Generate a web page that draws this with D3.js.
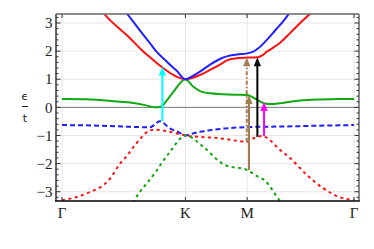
<!DOCTYPE html>
<html>
<head>
<meta charset="utf-8">
<script src="https://cdn.jsdelivr.net/npm/d3@7"></script>
<style>
  body { margin: 0; background: #fff; }
  .tl { font-family: "Liberation Serif", "Times New Roman", "DejaVu Serif", serif; font-size: 15px; fill: #222; }
</style>
</head>
<body>
<div id="chart"></div>
<script>
// path through the zone: Γ -> K -> M -> Γ (lengths 1 : 0.5 : √3/2)
var kTicks = [0, 1, 1.5, 2.366];
var kLabels = ["Γ", "K", "M", "Γ"];
var eTicks = [-3, -2, -1, 0, 1, 2, 3];

// conduction-like bands (solid)
var bandBlue = [[0.45, 3.75], [0.527, 3.33], [0.62, 2.8], [0.713, 2.28], [0.754, 2.04], [0.85, 1.62], [0.93, 1.3], [1, 1.0],
    [1.06, 1.12], [1.118, 1.27], [1.2, 1.52], [1.28, 1.72], [1.35, 1.83], [1.42, 1.88], [1.5, 1.92], [1.55, 1.98],
    [1.59, 2.1], [1.66, 2.4], [1.73, 2.75], [1.8, 3.1], [1.85, 3.4], [1.9, 3.7]];
var bandRed = [[0.3, 3.55], [0.34, 3.33], [0.551, 2.46], [0.646, 2.04], [0.74, 1.68], [0.821, 1.39], [0.929, 1.09], [1, 1.0],
    [1.118, 1.15], [1.2, 1.33], [1.28, 1.52], [1.34, 1.68], [1.4, 1.74], [1.5, 1.77], [1.59, 1.78], [1.625, 1.86],
    [1.66, 1.98], [1.72, 2.15], [1.767, 2.3], [1.85, 2.65], [1.93, 3.0], [2.01, 3.33], [2.07, 3.6]];
var bandGreen = [[0, 0.3], [0.2, 0.29], [0.308, 0.26], [0.47, 0.2], [0.551, 0.17], [0.673, 0.08], [0.754, 0.0], [0.8, 0.02],
    [0.85, 0.25], [0.902, 0.55], [1, 1.0], [1.06, 0.75], [1.118, 0.58], [1.2, 0.5], [1.3, 0.47], [1.4, 0.45], [1.5, 0.44],
    [1.55, 0.35], [1.6, 0.22], [1.645, 0.14], [1.7, 0.12], [1.767, 0.15], [1.85, 0.2], [1.93, 0.24], [2.09, 0.28],
    [2.25, 0.3], [2.366, 0.3]];

// valence-like bands (dashed)
var bandBlueDash = [[0, -0.63], [0.3, -0.65], [0.551, -0.69], [0.713, -0.71], [0.75, -0.62], [0.79, -0.49], [0.875, -0.75],
    [0.943, -0.88], [1, -1.0], [1.06, -0.93], [1.118, -0.87], [1.2, -0.81], [1.32, -0.75], [1.5, -0.7], [1.8, -0.68],
    [2.1, -0.65], [2.366, -0.63]];
var bandRedDash = [[0, -3.3], [0.2, -3.06], [0.39, -2.53], [0.47, -2.0], [0.53, -1.7], [0.592, -1.34], [0.66, -1.0],
    [0.713, -0.81], [0.76, -0.8], [0.875, -0.87], [1, -1.0], [1.28, -1.1], [1.5, -1.22], [1.56, -1.08], [1.625, -1.02],
    [1.685, -1.16], [1.75, -1.45], [1.847, -1.8], [1.983, -2.4], [2.115, -2.87], [2.253, -3.2], [2.366, -3.3]];
var bandGreenDash = [[0.55, -3.6], [0.583, -3.33], [0.74, -2.41], [0.875, -1.58], [1, -1.0], [1.145, -1.4], [1.28, -1.94],
    [1.32, -2.05], [1.5, -2.23], [1.59, -2.47], [1.64, -2.59], [1.767, -3.33], [1.8, -3.5]];

// optical transitions
var arrowK = [0.813, 1.497, 1.515, 1.583, 1.637];
var arrowFrom = [-0.49, -1.22, -2.23, -1.05, -1.02];
var arrowTo = [1.45, 1.78, 0.44, 1.78, 0.19];
var arrowColor = ["#00ffff", "#a67c52", "#a67c52", "#000000", "#ff00ff"];
var arrowDash = [null, "4,2,1.5,2", null, null, null];

var W = 374, H = 249;
var frame = { left: 56, right: 359, top: 14, bottom: 201 };

var x = d3.scaleLinear().domain([0, 2.366]).range([62, 354]);
var y = d3.scaleLinear().domain([-3.33, 3.32]).range([frame.bottom, frame.top]);

var svg = d3.select("#chart").append("svg")
    .attr("width", W)
    .attr("height", H);

svg.append("clipPath").attr("id", "clip")
  .append("rect")
    .attr("x", frame.left).attr("y", frame.top)
    .attr("width", frame.right - frame.left)
    .attr("height", frame.bottom - frame.top);

// grid
var grid = svg.append("g");
grid.selectAll(".hg").data(eTicks).enter().append("line")
    .attr("x1", frame.left).attr("x2", frame.right)
    .attr("y1", function (d) { return y(d); }).attr("y2", function (d) { return y(d); })
    .style("stroke", "#e6e6e6").style("stroke-width", 1);
grid.selectAll(".vg").data(kTicks).enter().append("line")
    .attr("x1", function (d) { return x(d); }).attr("x2", function (d) { return x(d); })
    .attr("y1", frame.top).attr("y2", frame.bottom)
    .style("stroke", "#e6e6e6").style("stroke-width", 1);
grid.append("line")
    .attr("x1", frame.left).attr("x2", frame.right)
    .attr("y1", y(0)).attr("y2", y(0))
    .style("stroke", "#7a7a7a").style("stroke-width", 1);

var line = d3.line()
    .x(function (d) { return x(d[0]); })
    .y(function (d) { return y(d[1]); })
    .curve(d3.curveMonotoneX);

var bands = [
    { data: bandBlueDash, color: "#1f1fff", dash: "5,3" },
    { data: bandRedDash, color: "#ff1010", dash: "3,3.5" },
    { data: bandGreenDash, color: "#10a810", dash: "3,3.5" },
    { data: bandGreen, color: "#10a810", dash: null },
    { data: bandRed, color: "#ff1010", dash: null },
    { data: bandBlue, color: "#1f1fff", dash: null }
];

var gBands = svg.append("g").attr("clip-path", "url(#clip)");
gBands.selectAll("path").data(bands).enter().append("path")
    .attr("d", function (d) { return line(d.data); })
    .style("fill", "none")
    .style("stroke", function (d) { return d.color; })
    .style("stroke-width", 2)
    .style("stroke-dasharray", function (d) { return d.dash; });

// arrows
var gArrows = svg.append("g");
arrowK.forEach(function (k, i) {
    var ax = x(k), y0 = y(arrowFrom[i]), y1 = y(arrowTo[i]);
    var headLen = 9, headW = 3.6;
    gArrows.append("line")
        .attr("x1", ax).attr("x2", ax)
        .attr("y1", y0).attr("y2", y1 + headLen - 1)
        .style("stroke", arrowColor[i])
        .style("stroke-width", 2)
        .style("stroke-dasharray", arrowDash[i]);
    gArrows.append("path")
        .attr("d", "M" + ax + "," + y1 + "L" + (ax - headW) + "," + (y1 + headLen) +
            "L" + (ax + headW) + "," + (y1 + headLen) + "Z")
        .style("fill", arrowColor[i]);
});

// frame
var gFrame = svg.append("g");
gFrame.append("line").attr("x1", frame.left).attr("x2", frame.right)
    .attr("y1", frame.top).attr("y2", frame.top)
    .style("stroke", "#666").style("stroke-width", 1.5);
gFrame.append("line").attr("x1", frame.right).attr("x2", frame.right)
    .attr("y1", frame.top).attr("y2", frame.bottom)
    .style("stroke", "#666").style("stroke-width", 1.5);
gFrame.append("line").attr("x1", frame.left).attr("x2", frame.left)
    .attr("y1", frame.top).attr("y2", frame.bottom)
    .style("stroke", "#666").style("stroke-width", 2);
gFrame.append("line").attr("x1", frame.left - 1).attr("x2", frame.right + 0.75)
    .attr("y1", frame.bottom).attr("y2", frame.bottom)
    .style("stroke", "#000").style("stroke-width", 1.5);

// y ticks (major + minor, both sides, pointing inward)
var minor = d3.range(-3.2, 3.3, 0.2).map(function (v) { return Math.round(v * 10) / 10; });
gFrame.selectAll(".ytl").data(minor).enter().append("line")
    .attr("x1", frame.left).attr("x2", function (d) { return frame.left + (Number.isInteger(d) ? 4.5 : 2.5); })
    .attr("y1", function (d) { return y(d); }).attr("y2", function (d) { return y(d); })
    .style("stroke", "#333").style("stroke-width", 1);
gFrame.selectAll(".ytr").data(minor).enter().append("line")
    .attr("x1", frame.right).attr("x2", function (d) { return frame.right - (Number.isInteger(d) ? 4.5 : 2.5); })
    .attr("y1", function (d) { return y(d); }).attr("y2", function (d) { return y(d); })
    .style("stroke", "#333").style("stroke-width", 1);

// x ticks
gFrame.selectAll(".xtb").data(kTicks).enter().append("line")
    .attr("x1", function (d) { return x(d); }).attr("x2", function (d) { return x(d); })
    .attr("y1", frame.bottom).attr("y2", frame.bottom - 4)
    .style("stroke", "#333").style("stroke-width", 1);
gFrame.selectAll(".xtt").data(kTicks).enter().append("line")
    .attr("x1", function (d) { return x(d); }).attr("x2", function (d) { return x(d); })
    .attr("y1", frame.top).attr("y2", frame.top + 4)
    .style("stroke", "#333").style("stroke-width", 1);

svg.selectAll(".ylab").data(eTicks).enter().append("text")
    .attr("class", "tl")
    .attr("x", frame.left - 3.5)
    .attr("y", function (d) { return y(d); })
    .attr("dy", "0.35em")
    .style("text-anchor", "end")
    .text(function (d) { return d < 0 ? "\u2212" + Math.abs(d) : d; });

svg.selectAll(".xlab").data(kTicks).enter().append("text")
    .attr("class", "tl")
    .attr("x", function (d) { return x(d); })
    .attr("y", 218)
    .style("text-anchor", "middle")
    .text(function (d, i) { return kLabels[i]; });

// axis label: ϵ / t
var lab = svg.append("g").attr("transform", "translate(25,0)");
lab.append("text").attr("x", 0).attr("y", 100)
    .style("text-anchor", "middle").style("font-family", '"DejaVu Sans", sans-serif')
    .style("font-size", "11px").style("fill", "#222").text("ϵ");
lab.append("line").attr("x1", -3).attr("x2", 3).attr("y1", 106.5).attr("y2", 106.5)
    .style("stroke", "#222").style("stroke-width", 1);
lab.append("text").attr("x", 0).attr("y", 122)
    .style("text-anchor", "middle").style("font-family", '"DejaVu Sans", sans-serif')
    .style("font-size", "11px").style("fill", "#222").text("t");
</script>
</body>
</html>
